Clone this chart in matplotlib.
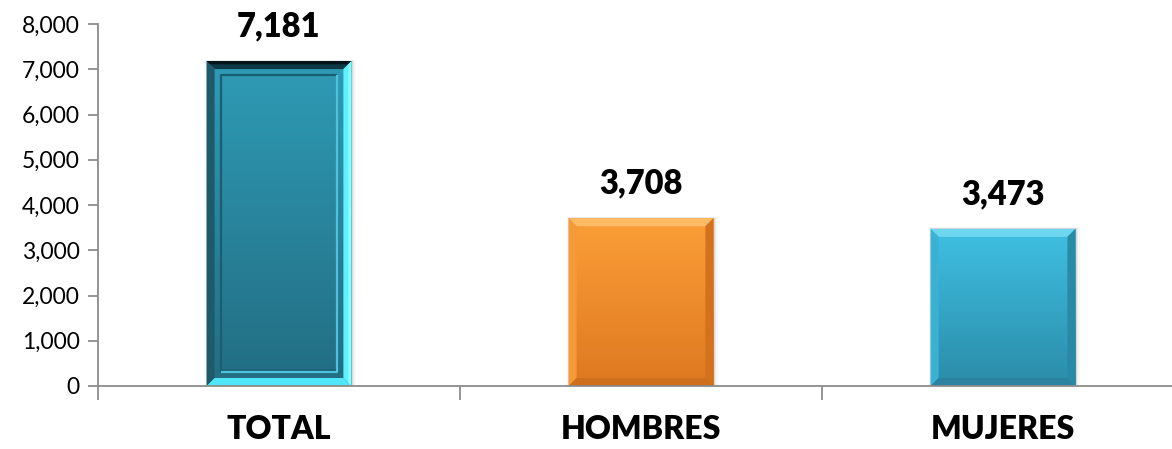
import matplotlib
matplotlib.use('Agg')
import matplotlib.pyplot as plt
import numpy as np
from matplotlib.patches import Polygon, Rectangle
from matplotlib.colors import LinearSegmentedColormap
from matplotlib.ticker import FuncFormatter, FixedLocator

# ---- data ----
categories = ['TOTAL', 'HOMBRES', 'MUJERES']
values = [7181, 3708, 3473]
y_ticks = [0, 1000, 2000, 3000, 4000, 5000, 6000, 7000, 8000]

# ---- styles ----
body_top = ['#2f9bb6', '#fb9f38', '#3fc0e3']
body_bot = ['#226d82', '#de7820', '#2b8ca8']
bevel_cols = [  # top, left, right, bottom
    ['#0f3945', '#1d5a6a', '#5ef2ff', '#4fe6f8'],
    ['#fdbb66', '#f59a36', '#d2721d', '#cf6e1c'],
    ['#6fd6ef', '#39b2d4', '#2a8aa5', '#2a82a0'],
]
bevel_px = [8, 8, 8]

W, H = 1172, 449
fig = plt.figure(figsize=(W / 100, H / 100), dpi=100)
ax_l, ax_b, ax_w, ax_h = 98, 63, 1086, 362
ax = fig.add_axes([ax_l / W, ax_b / H, ax_w / W, ax_h / H])

font = 'Lato'
x = np.arange(len(categories))
bars = ax.bar(x, values, width=0.40, color='none', edgecolor='none', zorder=2)

xlim = (-0.5, len(categories) - 0.5)
ylim = (0, 8000)
dx = (xlim[1] - xlim[0]) / ax_w
dy = (ylim[1] - ylim[0]) / ax_h

for i, b in enumerate(bars):
    x0, y0 = b.get_x(), b.get_y()
    x1, y1 = x0 + b.get_width(), y0 + b.get_height()
    # soft shadow
    for k, a in [(5, 0.06), (3, 0.10), (1.5, 0.14)]:
        ax.add_patch(Rectangle((x0 - k * dx * 0.3, y0), (x1 - x0) + k * dx * 1.3,
                               (y1 - y0) + k * dy * 0.3, facecolor='#7a7a7a',
                               edgecolor='none', alpha=a, zorder=1.5))
    # gradient body
    cmap = LinearSegmentedColormap.from_list('g%d' % i, [body_bot[i], body_top[i]])
    grad = np.linspace(0, 1, 256).reshape(-1, 1)
    im = ax.imshow(grad, extent=[x0, x1, y0, y1], origin='lower', aspect='auto',
                   cmap=cmap, zorder=2, interpolation='bilinear')
    im.set_clip_path(b)
    # bevels
    bx, by = bevel_px[i] * dx, bevel_px[i] * dy
    top = [(x0, y1), (x1, y1), (x1 - bx, y1 - by), (x0 + bx, y1 - by)]
    left = [(x0, y0), (x0, y1), (x0 + bx, y1 - by), (x0 + bx, y0 + by)]
    right = [(x1, y0), (x1, y1), (x1 - bx, y1 - by), (x1 - bx, y0 + by)]
    bottom = [(x0, y0), (x1, y0), (x1 - bx, y0 + by), (x0 + bx, y0 + by)]
    for poly, c in zip([top, left, right, bottom], bevel_cols[i]):
        ax.add_patch(Polygon(poly, closed=True, facecolor=c, edgecolor='none', zorder=3))
    if i == 0:
        # dark outer top edge
        ax.add_patch(Polygon([(x0, y1), (x1, y1), (x1 - bx * 0.4, y1 - by * 0.4),
                              (x0 + bx * 0.4, y1 - by * 0.4)], closed=True,
                             facecolor='#03141a', edgecolor='none', zorder=3.1))
        # bright outer right edge
        ax.add_patch(Polygon([(x1, y0), (x1, y1), (x1 - bx * 0.4, y1 - by * 0.4),
                              (x1 - bx * 0.4, y0 + by * 0.4)], closed=True,
                             facecolor='#8ffaff', edgecolor='none', zorder=3.1))
        # inner inset frame
        ix, iy = 14 * dx, 14 * dy
        ax.plot([x0 + ix, x0 + ix, x1 - ix], [y0 + iy, y1 - iy, y1 - iy],
                color='#1b5e70', lw=1.6, zorder=3.2, solid_capstyle='butt')
        ax.plot([x0 + ix, x1 - ix, x1 - ix], [y0 + iy, y0 + iy, y1 - iy],
                color='#4cc3da', lw=1.6, zorder=3.2, solid_capstyle='butt')
        ix2, iy2 = 16 * dx, 16 * dy
        ax.plot([x0 + ix2, x1 - ix2], [y0 + iy2, y0 + iy2],
                color='#1d6478', lw=1.2, zorder=3.2)

for b, v in zip(bars, values):
    ax.annotate(f'{v:,}', (b.get_x() + b.get_width() / 2, v), xytext=(0, 35),
                textcoords='offset pixels', ha='center', va='center',
                fontsize=23.5, fontweight='heavy', family=font, color='black')

ax.set_xlim(*xlim)
ax.set_ylim(*ylim)

ax.yaxis.set_major_locator(FixedLocator(y_ticks))
ax.yaxis.set_major_formatter(FuncFormatter(lambda v, p: f'{v:,.0f}'))
ax.tick_params(axis='y', which='major', direction='out', length=7, width=1.3,
               color='#8c8c8c', labelsize=16.5, pad=6)
for t in ax.get_yticklabels():
    t.set_family(font)

ax.xaxis.set_major_locator(FixedLocator(np.arange(len(categories) + 1) - 0.5))
ax.xaxis.set_major_formatter(FuncFormatter(lambda v, p: ''))
ax.xaxis.set_minor_locator(FixedLocator(x))
ax.set_xticklabels(categories, minor=True, fontsize=23, fontweight='heavy', family=font)
ax.tick_params(axis='x', which='major', direction='out', length=10, width=1.3, color='#8c8c8c')
ax.tick_params(axis='x', which='minor', length=0, pad=21)

for s in ['top', 'right']:
    ax.spines[s].set_visible(False)
for s in ['left', 'bottom']:
    ax.spines[s].set_color('#8c8c8c')
    ax.spines[s].set_linewidth(1.3)
ax.spines['bottom'].set_zorder(4)

fig.savefig('out.png', dpi=100)
